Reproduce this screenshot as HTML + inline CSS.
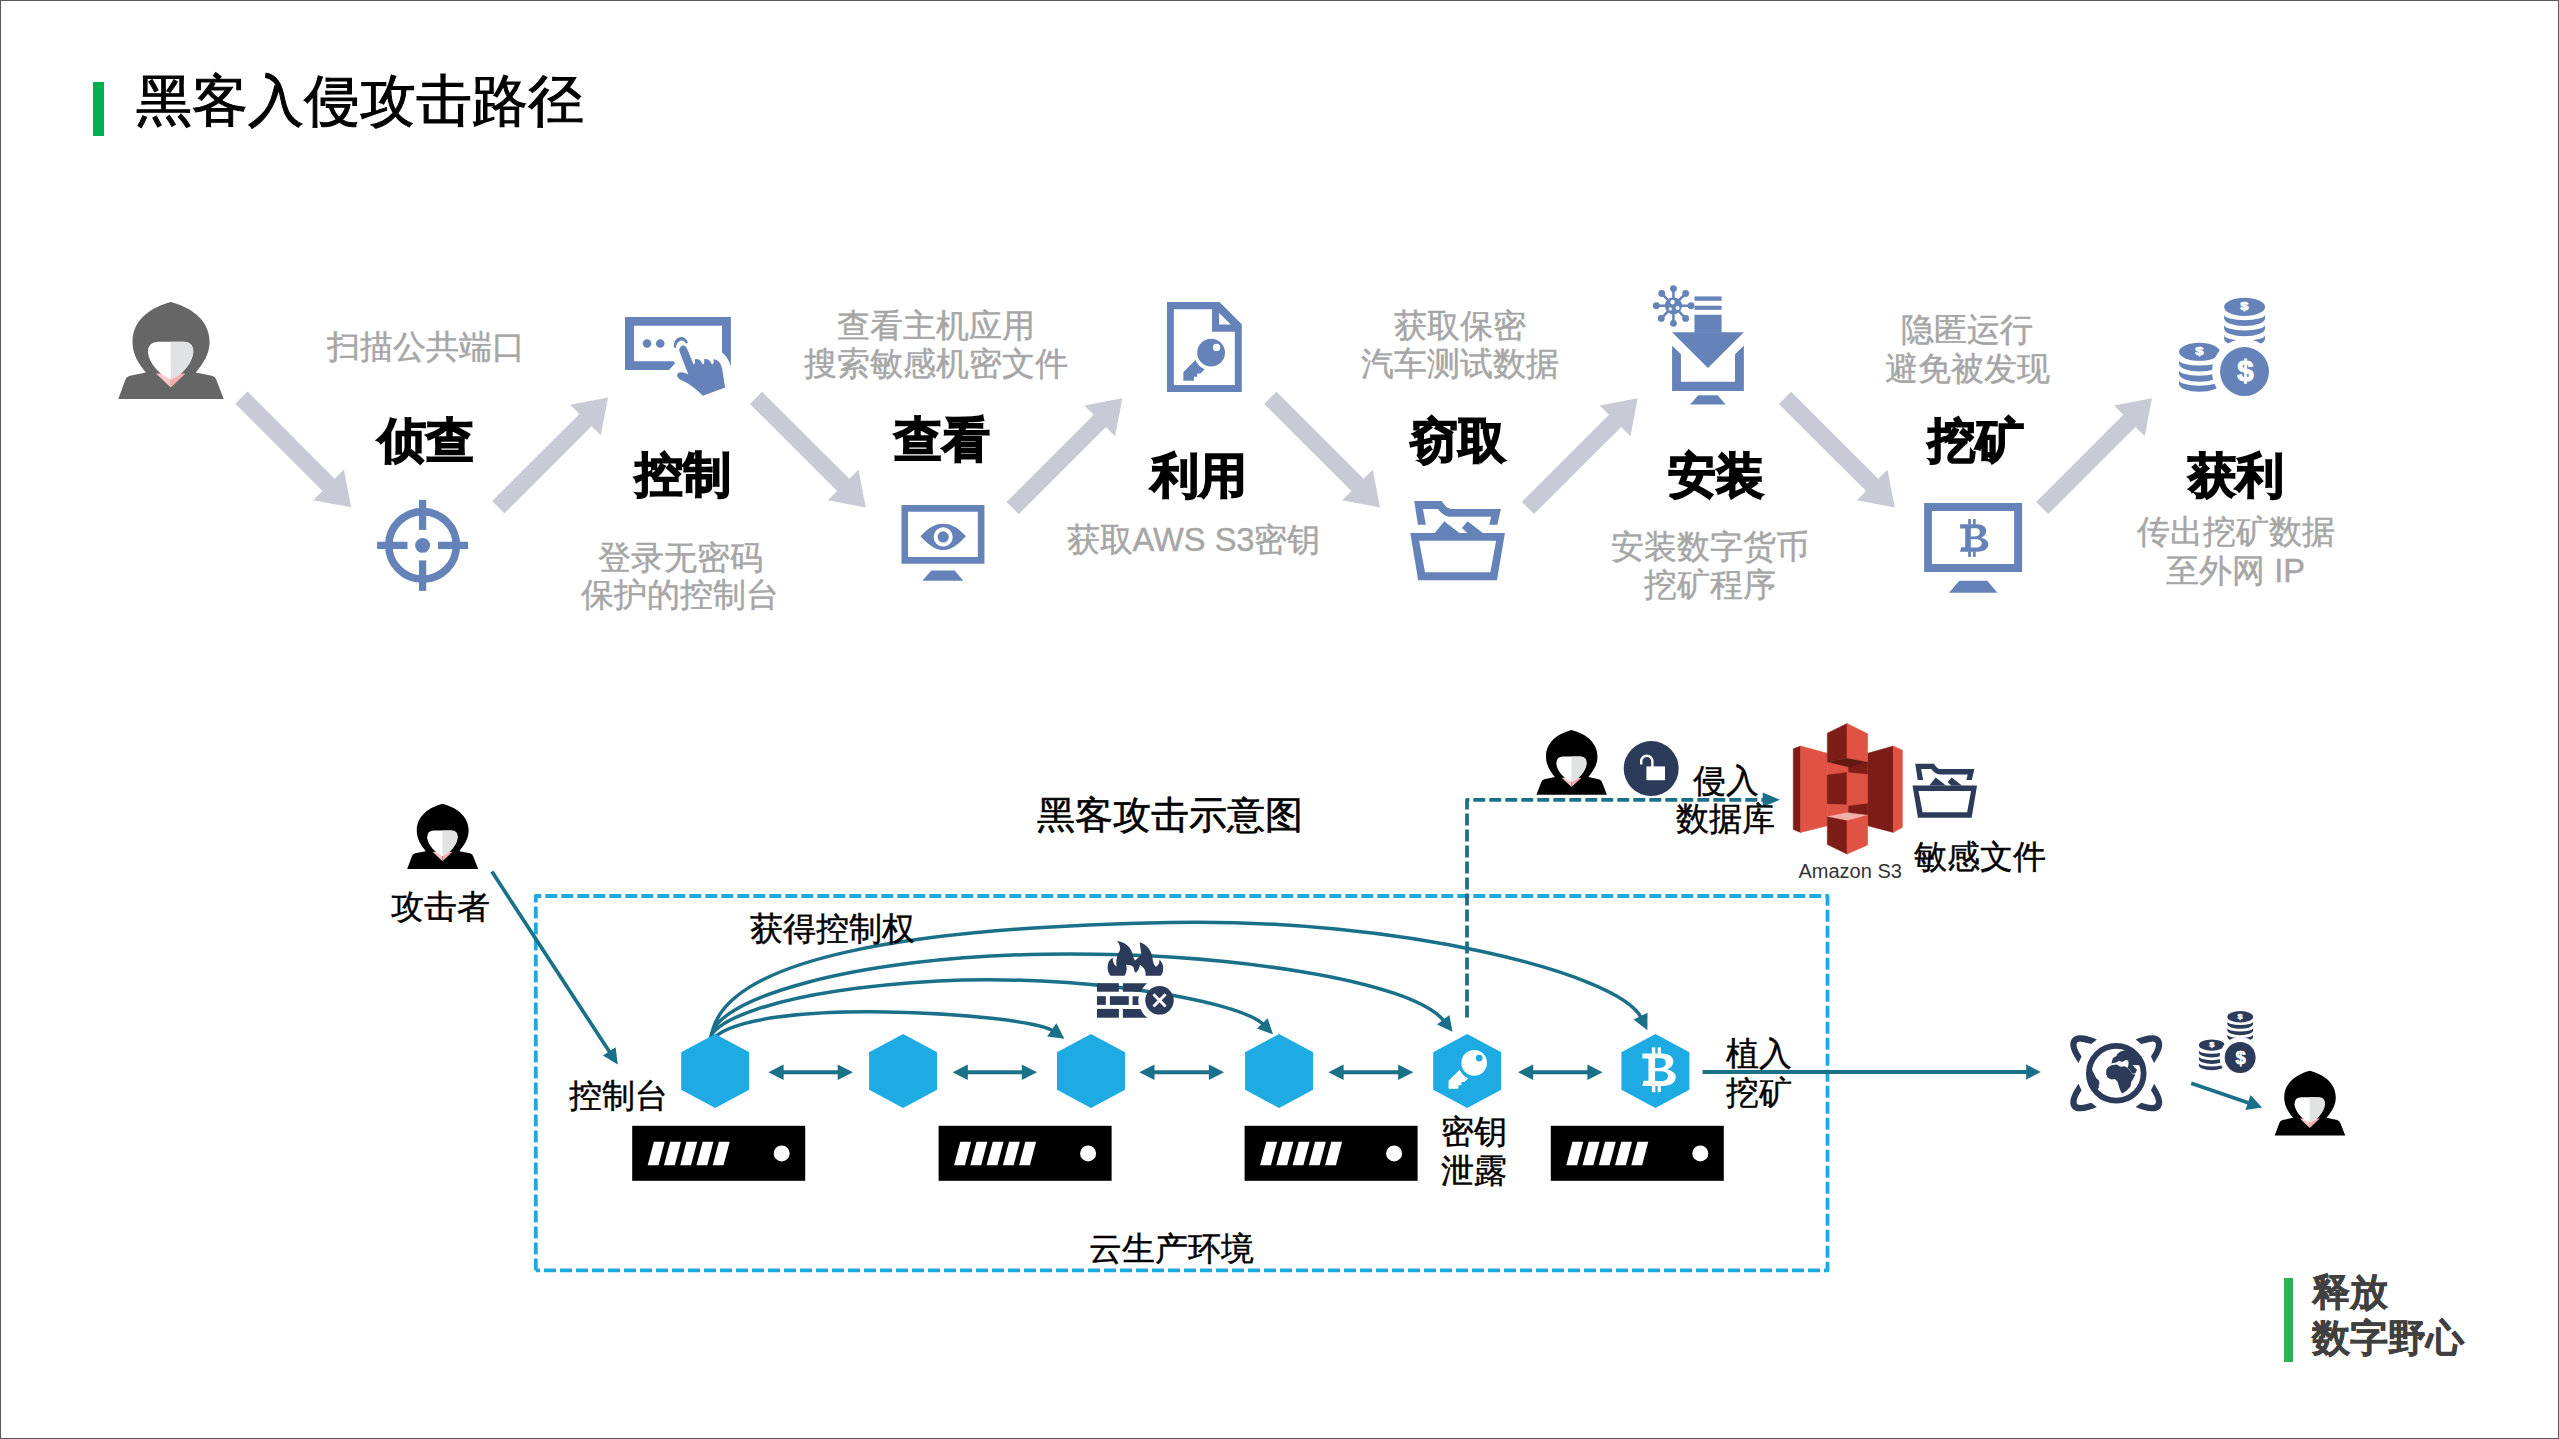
<!DOCTYPE html>
<html><head><meta charset="utf-8">
<style>
html,body{margin:0;padding:0;background:#fff;}
body{width:2559px;height:1439px;position:relative;overflow:hidden;font-family:"Liberation Sans",sans-serif;}
#frame{position:absolute;left:0;top:0;width:2559px;height:1439px;box-sizing:border-box;border:1px solid #595959;}
svg{position:absolute;left:0;top:0;}
.t{position:absolute;white-space:nowrap;}
.g,.k{-webkit-text-stroke:0.45px currentColor;}
.g{color:#a6a6a6;font-size:32.6px;text-align:center;}
.h{color:#000;font-size:48.3px;line-height:48px;font-weight:bold;-webkit-text-stroke:1.6px #000;text-align:center;width:200px;}
.k{color:#000;font-size:32.6px;}
</style></head><body>
<div id="frame"></div>
<!--SVG--><svg width="2559" height="1439" viewBox="0 0 2559 1439">
<defs>
<g id="hacker">
<path fill="currentColor" d="M52.8,0 C34,5 14.5,17 14.5,40 C14.5,53 21,62 27.8,70.5 L12,73.8 Q8,75 7,78.8 L0.3,97 L105.75,97 L98.7,78.8 Q97.5,75 93.7,73.8 L77.8,70.5 C84.5,62 91.6,53 91.6,40 C91.6,17 71.6,5 52.8,0 Z"/>
<path fill="#f8c9c9" d="M38,71.5 L52.8,71.5 L52.8,85.5 Z"/>
<path fill="#f2adad" d="M52.8,71.5 L67.6,71.5 L52.8,85.5 Z"/>
<path fill="#ffffff" d="M40,39.7 L66,39.7 Q75.5,40 75.3,50 C74,62 64,73 52.8,77.6 C42,73 31,62 29.9,50 Q30,40 40,39.7 Z"/>
<path fill="#e1e2e4" d="M52.6,39.7 L66,39.7 Q75.5,40 75.3,50 C74,62 64,73 52.8,77.6 Z"/>
</g>
<g id="coins">
<ellipse cx="975.8" cy="221" rx="267.5" ry="119" fill="currentColor"/>
<path fill="currentColor" d="M708.3,320.5 L708.3,368.5 A267.5,104 0 0 0 1243.3,368.5 L1243.3,320.5 A267.5,74 0 0 1 708.3,320.5 Z"/>
<path fill="currentColor" d="M708.3,454.6 L708.3,502.6 A267.5,104 0 0 0 1243.3,502.6 L1243.3,454.6 A267.5,74 0 0 1 708.3,454.6 Z"/>
<path fill="currentColor" d="M708.3,588.3 L708.3,636.3 A267.5,104 0 0 0 1243.3,636.3 L1243.3,588.3 A267.5,74 0 0 1 708.3,588.3 Z"/>
<ellipse cx="385.2" cy="809" rx="267.5" ry="118" fill="currentColor"/>
<path fill="currentColor" d="M117.7,914.3 L117.7,962.3 A267.5,104 0 0 0 652.7,962.3 L652.7,914.3 A267.5,74 0 0 1 117.7,914.3 Z"/>
<path fill="currentColor" d="M117.7,1047.6 L117.7,1095.6 A267.5,104 0 0 0 652.7,1095.6 L652.7,1047.6 A267.5,74 0 0 1 117.7,1047.6 Z"/>
<path fill="currentColor" d="M117.7,1178.4 L117.7,1226.4 A267.5,104 0 0 0 652.7,1226.4 L652.7,1178.4 A267.5,74 0 0 1 117.7,1178.4 Z"/>
<circle cx="974.5" cy="1066.7" r="425" fill="#fff"/>
<circle cx="974.5" cy="1066.7" r="320.5" fill="currentColor"/>
<text x="0" y="0" transform="translate(971.5,267) scale(1.3,1)" font-family="Liberation Sans" font-weight="bold" font-size="150" fill="#fff" stroke="#fff" stroke-width="8" text-anchor="middle">$</text>
<text x="0" y="0" transform="translate(385.5,852) scale(1.3,1)" font-family="Liberation Sans" font-weight="bold" font-size="150" fill="#fff" stroke="#fff" stroke-width="8" text-anchor="middle">$</text>
<text x="987" y="1195" font-family="Liberation Sans" font-weight="bold" font-size="384" fill="#fff" stroke="#fff" stroke-width="14" text-anchor="middle">$</text>
</g>
<g id="btc">
<path fill="currentColor" fill-rule="evenodd" d="M618,400 L850,400 C950,405 975,450 975,495 C975,540 950,570 905,585 C975,600 1005,640 1005,665 C1005,730 960,778 850,778 L618,778 L632,715 L688,715 L688,460 L618,460 Z M765,455 L840,455 C880,458 888,485 888,512 C888,545 865,568 820,568 L765,568 Z M765,605 L830,605 C890,605 915,635 915,660 C915,695 890,718 830,718 L765,718 Z"/>
<rect x="728" y="330" width="40" height="75" fill="currentColor"/><rect x="795" y="330" width="37" height="75" fill="currentColor"/>
<rect x="728" y="773" width="40" height="75" fill="currentColor"/><rect x="795" y="773" width="37" height="75" fill="currentColor"/>
</g>
<g id="key">
<circle cx="700" cy="790" r="190" fill="currentColor"/>
<path fill="currentColor" d="M485,890 C510,950 560,995 612,1018 L555,1075 L510,1075 L510,1120 L465,1120 L465,1175 L320,1175 L320,1055 Z"/>
</g>
<g id="server">
<rect x="0" y="0" width="173" height="55" fill="#000"/>
<g fill="#fff">
<path d="M15.5,39.5 L26.3,39.5 L32.5,16 L21.7,16 Z"/>
<path d="M31.75,39.5 L42.55,39.5 L48.75,16 L37.95,16 Z"/>
<path d="M48,39.5 L58.8,39.5 L65,16 L54.2,16 Z"/>
<path d="M64.25,39.5 L75.05,39.5 L81.25,16 L70.45,16 Z"/>
<path d="M80.5,39.5 L91.3,39.5 L97.5,16 L86.7,16 Z"/>
<circle cx="149.5" cy="27.6" r="8"/>
</g>
</g>
<path id="arrp" fill="#c8cbd5" d="M0,-8.65 L123.3,-8.65 L123.3,-21.7 L155.2,0 L123.3,21.7 L123.3,8.65 L0,8.65 Z"/>
<marker id="mh" viewBox="0 0 18 16" refX="17" refY="8" markerWidth="18" markerHeight="16" markerUnits="userSpaceOnUse" orient="auto-start-reverse"><path d="M0,0 L18,8 L0,16 Z" fill="#1a6f89"/></marker>
<marker id="md" viewBox="0 0 16 17" refX="15" refY="8.5" markerWidth="16" markerHeight="17" markerUnits="userSpaceOnUse" orient="auto-start-reverse"><path d="M0,0 L16,8.5 L0,17 Z" fill="#1a6f89"/></marker>
</defs>
<g id="toprow">
<use href="#arrp" transform="translate(241.4,397.6) rotate(45)"/>
<use href="#arrp" transform="translate(498.3,507.2) rotate(-45)"/>
<use href="#arrp" transform="translate(756,397.8) rotate(45)"/>
<use href="#arrp" transform="translate(1012.6,508.1) rotate(-45)"/>
<use href="#arrp" transform="translate(1270.3,397.8) rotate(45)"/>
<use href="#arrp" transform="translate(1527.9,508) rotate(-45)"/>
<use href="#arrp" transform="translate(1785,397.8) rotate(45)"/>
<use href="#arrp" transform="translate(2042.2,508) rotate(-45)"/>
<use href="#hacker" transform="translate(118,302)" style="color:#666666"/>
<g fill="#6583b8">
<g transform="translate(422.6,545.4)">
<circle cx="0" cy="0" r="33.8" fill="none" stroke="#6583b8" stroke-width="7.6"/>
<rect x="-3.65" y="-45.5" width="7.3" height="30"/><rect x="-3.65" y="15" width="7.3" height="30.5"/>
<rect x="-45.5" y="-3.65" width="30.4" height="7.3"/><rect x="15.4" y="-3.65" width="30.1" height="7.3"/>
<circle cx="0" cy="0" r="7.45"/>
</g>
<g transform="translate(615,310) scale(0.066033)">
<path d="M152,105 L1755,105 L1755,850 Q1700,700 1620,645 L1620,240 L287,240 L287,775 L890,775 L908,812 L818,908 L152,908 Z"/>
<circle cx="485" cy="508" r="65"/><circle cx="685" cy="508" r="65"/>
<path d="M900,575 C880,520 900,440 970,415 C1040,395 1090,440 1105,495 L1075,510 C1055,470 1020,455 985,468 C940,485 925,530 925,570 Z"/>
<path d="M975,625 C965,570 1010,530 1050,540 C1075,548 1085,570 1095,595 L1190,825 L1210,805 L1212,745 C1260,740 1290,750 1310,790 L1330,825 L1350,805 L1352,745 C1400,740 1430,750 1450,790 L1470,825 L1495,800 L1490,745 C1560,750 1600,800 1620,880 C1640,960 1645,1080 1670,1175 L1330,1300 C1250,1210 1150,1130 1000,1060 C940,1030 925,975 960,950 C990,930 1050,945 1110,975 Z"/>
</g>
<g transform="translate(895,495) scale(0.066)">
<path fill-rule="evenodd" d="M98,152 L1355,152 L1355,1040 L98,1040 Z M198,255 L198,938 L1255,938 L1255,255 Z"/>
<path d="M550,1145 L905,1145 L1035,1300 L415,1300 Z"/>
<path d="M385,625 C520,480 620,435 730,435 C840,435 940,480 1075,625 C940,770 840,835 730,835 C620,835 520,770 385,625 Z"/>
<circle cx="730" cy="635" r="145" fill="#fff"/><circle cx="730" cy="635" r="85"/>
</g>
<g transform="translate(1160,295) scale(0.073)">
<path fill-rule="evenodd" d="M95,97 L815,97 L1120,400 L1120,1330 L95,1330 Z M190,195 L190,1232 L1025,1232 L1025,505 L713,505 L713,195 Z M810,245 L810,405 L970,405 Z"/>
<use href="#key" style="color:#6583b8"/>
<circle cx="775" cy="718" r="50" fill="#fff"/>
</g>
<g transform="translate(1400,490) scale(0.0695)">
<path d="M205,160 L600,160 C640,215 670,270 740,272 L1452,272 L1400,500 L1285,500 L1312,385 L740,385 C650,385 590,330 545,272 L330,272 L372,500 L258,500 Z"/>
<path fill-rule="evenodd" d="M148,620 L1510,620 L1395,1298 L262,1298 Z M275,732 L360,1185 L1300,1185 L1383,732 Z"/>
<path d="M500,620 L637,448 L855,620 Z"/>
<path d="M890,548 L972,448 L1192,620 L965,620 L960,612 Z"/>
</g>
<g transform="translate(1645,280) scale(0.0903)">
<rect x="548" y="182" width="300" height="48"/><rect x="548" y="285" width="300" height="45"/>
<rect x="548" y="385" width="300" height="200"/>
<path d="M300,580 L1095,580 L697,975 Z"/>
<path d="M300,725 L398,822 L398,1128 L997,1128 L997,822 L1095,725 L1095,1228 L300,1228 Z"/>
<path d="M588,1275 L805,1275 L893,1378 L500,1378 Z"/>
<g stroke="#6583b8" stroke-width="28" stroke-linecap="round">
<line x1="315" y1="285" x2="315" y2="95"/><line x1="315" y1="285" x2="450" y2="150"/><line x1="315" y1="285" x2="510" y2="285"/><line x1="315" y1="285" x2="450" y2="425"/>
<line x1="315" y1="285" x2="315" y2="480"/><line x1="315" y1="285" x2="180" y2="425"/><line x1="315" y1="285" x2="125" y2="285"/><line x1="315" y1="285" x2="185" y2="150"/>
</g>
<circle cx="315" cy="285" r="95"/>
<circle cx="315" cy="95" r="38"/><circle cx="450" cy="150" r="38"/><circle cx="510" cy="285" r="38"/><circle cx="450" cy="425" r="38"/>
<circle cx="315" cy="480" r="38"/><circle cx="180" cy="425" r="38"/><circle cx="125" cy="285" r="38"/><circle cx="185" cy="150" r="38"/>
<circle cx="305" cy="245" r="25" fill="#fff"/><circle cx="280" cy="320" r="18" fill="#fff"/><circle cx="360" cy="310" r="22" fill="#fff"/>
</g>
<g transform="translate(1915,495) scale(0.07297)">
<path fill-rule="evenodd" d="M125,110 L1468,110 L1468,1055 L125,1055 Z M232,218 L232,945 L1358,945 L1358,218 Z"/>
<path d="M610,1175 L990,1175 L1130,1340 L465,1340 Z"/>
<use href="#btc" style="color:#6583b8"/>
</g>
</g>
<use href="#coins" transform="translate(2170,290) scale(0.07645)" style="color:#6583b8"/>
</g>
<g id="bottom">
<path d="M535.8,902.5 L535.8,896 L1827.5,896 L1827.5,1270.3 L535.8,1270.3" fill="none" stroke="#1ea9e1" stroke-width="3.8" stroke-dasharray="12 4" stroke-linejoin="round"/>
<path d="M535.8,1270.3 L535.8,902.5" fill="none" stroke="#1ea9e1" stroke-width="3.8" stroke-dasharray="12 4" stroke-dashoffset="0.3"/>
<g fill="none" stroke="#1a6f89" stroke-width="3.5">
<path d="M711.0,1041.0 C715.3,955.3 923.5,927.3 1169.8,922.4 C1396.4,917.9 1619.3,972.7 1641.4,1018.0"/>
<path fill="#1a6f89" stroke="none" d="M1647.4,1030.3 L1633.5,1019.6 L1647.5,1012.8 Z"/>
<path d="M711.0,1041.0 C705.5,1000.0 854.2,956.8 1044.3,954.2 C1226.0,951.7 1412.3,980.3 1444.4,1021.4"/>
<path fill="#1a6f89" stroke="none" d="M1452.5,1031.7 L1437.0,1024.6 L1449.4,1015.0 Z"/>
<path d="M711.0,1041.0 C704.8,1026.4 762.5,991.2 938.3,981.1 C1071.1,973.4 1238.7,999.2 1263.7,1024.8"/>
<path fill="#1a6f89" stroke="none" d="M1273.0,1034.3 L1257.0,1028.5 L1267.6,1018.2 Z"/>
<path d="M711.0,1041.0 C745.6,994.5 1028.0,1013.3 1053.4,1031.1"/>
<path fill="#1a6f89" stroke="none" d="M1064.4,1038.8 L1047.1,1036.6 L1056.4,1023.3 Z"/>
</g>
<g fill="#1a6f89">
<path d="M768.4,1072.2 L783.6,1080.0 L783.6,1064.4 Z"/>
<line x1="782.6" y1="1072.2" x2="838.7" y2="1072.2" stroke="#1a6f89" stroke-width="3.90"/>
<path d="M852.9,1072.2 L837.7,1080.0 L837.7,1064.4 Z"/>
<path d="M952.6,1072.2 L967.8,1080.0 L967.8,1064.4 Z"/>
<line x1="966.8" y1="1072.2" x2="1022.8" y2="1072.2" stroke="#1a6f89" stroke-width="3.90"/>
<path d="M1037.0,1072.2 L1021.8,1080.0 L1021.8,1064.4 Z"/>
<path d="M1139.3,1072.2 L1154.5,1080.0 L1154.5,1064.4 Z"/>
<line x1="1153.5" y1="1072.2" x2="1209.9" y2="1072.2" stroke="#1a6f89" stroke-width="3.90"/>
<path d="M1224.1,1072.2 L1208.9,1080.0 L1208.9,1064.4 Z"/>
<path d="M1328.4,1072.2 L1343.6,1080.0 L1343.6,1064.4 Z"/>
<line x1="1342.6" y1="1072.2" x2="1399.1" y2="1072.2" stroke="#1a6f89" stroke-width="3.90"/>
<path d="M1413.3,1072.2 L1398.1,1080.0 L1398.1,1064.4 Z"/>
<path d="M1518.0,1072.2 L1533.2,1080.0 L1533.2,1064.4 Z"/>
<line x1="1532.2" y1="1072.2" x2="1588.4" y2="1072.2" stroke="#1a6f89" stroke-width="3.90"/>
<path d="M1602.6,1072.2 L1587.4,1080.0 L1587.4,1064.4 Z"/>
<line x1="491.9" y1="871.6" x2="609.8" y2="1052.3" stroke="#1a6f89" stroke-width="3.70"/>
<path d="M617.8,1064.6 L602.9,1055.6 L615.6,1047.3 Z"/>
<line x1="1702.6" y1="1072.0" x2="2027.1" y2="1072.0" stroke="#1a6f89" stroke-width="3.80"/>
<path d="M2040.8,1072.0 L2026.1,1079.7 L2026.1,1064.3 Z"/>
<line x1="2191.2" y1="1083.2" x2="2248.9" y2="1102.9" stroke="#1a6f89" stroke-width="3.70"/>
<path d="M2262.1,1107.4 L2245.4,1110.0 L2250.5,1095.1 Z"/>
</g>
<g stroke="#1a6f89" fill="none">
<path d="M1467,1017.5 L1467,799.8 L1764,799.8" stroke-width="3.75" stroke-dasharray="12 4" stroke-linejoin="round"/>
</g>
<path d="M1762.7,792.6 L1780,799.8 L1762.7,807.0 Z" fill="#1a6f89"/>
<g fill="#1eaae2">
<path d="M715.2,1034 L749.2,1052.3 L749.2,1089.7 L715.2,1108 L681.2,1089.7 L681.2,1052.3 Z"/>
<path d="M903.1,1034 L937.1,1052.3 L937.1,1089.7 L903.1,1108 L869.1,1089.7 L869.1,1052.3 Z"/>
<path d="M1091,1034 L1125,1052.3 L1125,1089.7 L1091,1108 L1057,1089.7 L1057,1052.3 Z"/>
<path d="M1279.1,1034 L1313.1,1052.3 L1313.1,1089.7 L1279.1,1108 L1245.1,1089.7 L1245.1,1052.3 Z"/>
<path d="M1467.2,1034 L1501.2,1052.3 L1501.2,1089.7 L1467.2,1108 L1433.2,1089.7 L1433.2,1052.3 Z"/>
<path d="M1655.4,1034 L1689.4,1052.3 L1689.4,1089.7 L1655.4,1108 L1621.4,1089.7 L1621.4,1052.3 Z"/>
</g>
<g transform="translate(1427,1009.65) scale(0.0674)" style="color:#fff"><use href="#key"/><circle cx="775" cy="718" r="50" fill="#1eaae2"/></g>
<use href="#btc" transform="translate(1588.9,1018.8) scale(0.0865)" style="color:#fff"/>
<use href="#server" transform="translate(632.2,1125.8)"/>
<use href="#server" transform="translate(938.6,1125.8)"/>
<use href="#server" transform="translate(1244.6,1125.8)"/>
<use href="#server" transform="translate(1550.8,1125.8)"/>
<use href="#hacker" transform="translate(407,803.7) scale(0.673)" style="color:#000"/>
<use href="#hacker" transform="translate(1536.3,730) scale(0.668)" style="color:#000"/>
<use href="#hacker" transform="translate(2274.5,1070.7) scale(0.669)" style="color:#000"/>
<g fill="#2c3b5a">
<g transform="translate(1085,930) scale(0.0695)">
<rect x="172" y="765" width="316" height="123"/>
<path d="M545,765 L895,765 C850,805 820,845 800,888 L545,888 Z"/>
<rect x="172" y="952" width="128" height="126"/><rect x="358" y="952" width="272" height="126"/>
<path d="M685,952 L775,952 C765,995 765,1040 775,1078 L685,1078 Z"/>
<rect x="172" y="1135" width="316" height="127"/>
<path d="M545,1135 L800,1135 C830,1200 860,1235 900,1262 L545,1262 Z"/>
<circle cx="1072" cy="1012" r="205"/>
<path d="M985,925 L1160,1100 M1160,925 L985,1100" stroke="#fff" stroke-width="42"/>
<path d="M370,660 C330,620 310,540 340,460 C360,420 385,405 400,400 C395,450 410,490 455,530 C440,430 470,340 500,300 C520,260 490,190 460,158 C560,170 650,230 680,330 C690,370 700,410 720,440 C760,400 800,380 810,350 C800,290 795,230 785,178 C900,210 960,310 970,400 C975,450 985,500 1020,530 C1060,510 1075,470 1070,425 C1120,470 1135,540 1120,600 C1110,640 1090,660 1070,660 L870,660 C880,600 860,540 790,505 C780,560 760,600 730,615 C710,600 700,560 700,540 C690,520 650,500 590,500 C610,550 600,610 570,660 Z"/>
</g>
<circle cx="1651.2" cy="768.6" r="27.5"/>
<use href="#coins" transform="translate(2193.2,1006.1) scale(0.0482)" style="color:#2c3b5a"/>
<g transform="translate(1905.5,756.2) scale(0.0474)">
<path d="M205,160 L600,160 C640,215 670,270 740,272 L1452,272 L1400,500 L1285,500 L1312,385 L740,385 C650,385 590,330 545,272 L330,272 L372,500 L258,500 Z"/>
<path fill-rule="evenodd" d="M148,620 L1510,620 L1395,1298 L262,1298 Z M275,732 L360,1185 L1300,1185 L1383,732 Z"/>
<path d="M500,620 L637,448 L855,620 Z"/>
<path d="M890,548 L972,448 L1192,620 L965,620 L960,612 Z"/>
</g>
<g transform="translate(2065,1028) scale(0.0625)">
<circle cx="820" cy="725" r="438" fill="none" stroke="#2c3b5a" stroke-width="93"/>
<path id="brk" d="M510,185 C400,140 300,105 200,120 C110,140 80,210 85,280 C95,380 160,470 215,560 L265,455 C220,380 185,320 185,270 C185,230 210,215 250,218 C300,222 360,240 420,255 Z"/>
<use href="#brk" transform="translate(1640,0) scale(-1,1)"/>
<use href="#brk" transform="translate(0,1450) scale(1,-1)"/>
<use href="#brk" transform="translate(1640,1450) scale(-1,-1)"/>
<path d="M431,663 467,737 498,798 541,841 553,884 538,920 547,945 525,981 473,945 424,822 418,700 Z"/>
<path d="M742,566 752,529 767,480 822,449 840,413 889,376 978,348 1073,352 1164,425 1220,517 1223,596 1079,593 1122,639 1152,663 1134,712 1109,731 1073,725 1036,670 1002,630 1012,602 1018,547 969,514 938,532 908,544 871,523 828,547 779,559 Z"/>
<path d="M663,663 687,627 742,596 828,584 889,618 950,611 996,630 1042,682 1082,740 1128,743 1091,810 1057,871 1051,933 981,1006 914,1049 889,1006 865,945 840,859 798,816 742,822 681,792 657,737 Z"/>
<ellipse cx="987" cy="526" rx="30" ry="12" fill="#fff"/>
</g>
</g>
<g fill="#fff">
<rect x="1646.4" y="766.4" width="18.6" height="13.8"/>
</g>
<path d="M1641.2,764.4 L1641.2,761.3 A5.6,5.6 0 0 1 1652.4,761.3 L1652.4,767" fill="none" stroke="#fff" stroke-width="2.4"/>
<g transform="translate(1785,715) scale(0.10078)">
<path fill="#7e1d17" stroke="#7e1d17" stroke-width="5" stroke-linejoin="round" d="M82,335 L155,308 L155,1165 L82,1135 Z"/>
<path fill="#e05243" stroke="#e05243" stroke-width="5" stroke-linejoin="round" d="M155,308 L420,380 L420,1100 L155,1165 Z"/>
<path fill="#7e1d17" stroke="#7e1d17" stroke-width="5" stroke-linejoin="round" d="M820,380 L1075,308 L1075,1165 L820,1100 Z"/>
<path fill="#e05243" stroke="#e05243" stroke-width="5" stroke-linejoin="round" d="M1075,308 L1165,350 L1165,1115 L1075,1165 Z"/>
<path fill="#e05243" stroke="#e05243" stroke-width="5" stroke-linejoin="round" d="M420,465 L630,510 L630,1010 L420,1010 Z"/>
<path fill="#7e1d17" stroke="#7e1d17" stroke-width="5" stroke-linejoin="round" d="M630,510 L820,470 L820,1010 L630,1010 Z"/>
<path fill="#7e1d17" stroke="#7e1d17" stroke-width="5" stroke-linejoin="round" d="M420,180 L615,85 L615,430 L420,465 Z"/>
<path fill="#e05243" stroke="#e05243" stroke-width="5" stroke-linejoin="round" d="M615,85 L820,185 L820,470 L615,430 Z"/>
<path fill="#641812" stroke="#641812" stroke-width="5" stroke-linejoin="round" d="M420,465 L615,430 L820,470 L635,515 Z"/>
<path fill="#7e1d17" stroke="#7e1d17" stroke-width="5" stroke-linejoin="round" d="M420,595 L615,570 L615,885 L420,880 Z"/>
<path fill="#e05243" stroke="#e05243" stroke-width="5" stroke-linejoin="round" d="M615,570 L820,590 L820,875 L615,900 Z"/>
<path fill="#f2b0a9" stroke="#f2b0a9" stroke-width="5" stroke-linejoin="round" d="M420,1010 L615,970 L820,995 L615,1050 Z"/>
<path fill="#7e1d17" stroke="#7e1d17" stroke-width="5" stroke-linejoin="round" d="M420,1010 L615,1050 L615,1380 L420,1285 Z"/>
<path fill="#e05243" stroke="#e05243" stroke-width="5" stroke-linejoin="round" d="M615,1050 L820,995 L820,1290 L615,1380 Z"/>
</g>
</g>
</svg>
<div class="t" style="left:93px;top:82px;width:11px;height:54px;background:#00b050"></div>
<div class="t" style="left:136px;top:73.3px;font-size:55.9px;line-height:55.7px;color:#000;-webkit-text-stroke:1px #000">黑客入侵攻击路径</div>

<div class="t g" style="left:325.90px;top:331.10px;width:200px;line-height:32px">扫描公共端口</div>
<div class="t g" style="left:530.20px;top:538.60px;width:300px;line-height:37.8px">登录无密码<br>保护的控制台</div>
<div class="t g" style="left:786.00px;top:306.80px;width:300px;line-height:37.7px">查看主机应用<br>搜索敏感机密文件</div>
<div class="t g" style="left:1043.55px;top:523.80px;width:300px;line-height:32px">获取AWS S3密钥</div>
<div class="t g" style="left:1309.90px;top:306.50px;width:300px;line-height:38.5px">获取保密<br>汽车测试数据</div>
<div class="t g" style="left:1559.70px;top:528.15px;width:300px;line-height:37.8px">安装数字货币<br>挖矿程序</div>
<div class="t g" style="left:1817.20px;top:310.15px;width:300px;line-height:39px">隐匿运行<br>避免被发现</div>
<div class="t g" style="left:2085.70px;top:513.30px;width:300px;line-height:38.65px">传出挖矿数据<br>至外网 IP</div>

<div class="t h" style="left:325.55px;top:415.70px">侦查</div>
<div class="t h" style="left:582.65px;top:450.20px">控制</div>
<div class="t h" style="left:841.80px;top:415.40px">查看</div>
<div class="t h" style="left:1098.70px;top:450.95px">利用</div>
<div class="t h" style="left:1357.55px;top:416.05px">窃取</div>
<div class="t h" style="left:1615.95px;top:450.55px">安装</div>
<div class="t h" style="left:1876.05px;top:416.05px">挖矿</div>
<div class="t h" style="left:2136.00px;top:450.55px">获利</div>

<div class="t" style="left:1019.75px;top:797.1px;width:300px;text-align:center;font-size:38.0px;line-height:37.2px;color:#000;-webkit-text-stroke:0.6px #000">黑客攻击示意图</div>
<div class="t k" style="left:390.70px;top:891.20px;width:100px;text-align:center;line-height:32px">攻击者</div>
<div class="t k" style="left:750.0px;top:913.00px;line-height:32px">获得控制权</div>
<div class="t k" style="left:568.60px;top:1080.00px;width:100px;text-align:center;line-height:32px">控制台</div>
<div class="t k" style="left:1423.50px;top:1111.65px;width:100px;text-align:center;line-height:39px">密钥<br>泄露</div>
<div class="t k" style="left:1708.65px;top:1033.90px;width:100px;text-align:center;line-height:39.4px">植入<br>挖矿</div>
<div class="t k" style="left:1675.70px;top:762.45px;width:100px;text-align:center;line-height:38px">侵入<br>数据库</div>
<div class="t k" style="left:1914px;top:841.45px;line-height:32px">敏感文件</div>
<div class="t k" style="left:1071.90px;top:1232.50px;width:200px;text-align:center;line-height:32px">云生产环境</div>
<div class="t" style="left:1798.5px;top:860.9px;font-size:20px;line-height:20px;color:#333">Amazon S3</div>

<div class="t" style="left:2284px;top:1278px;width:9px;height:84px;background:#2ab45a"></div>
<div class="t" style="left:2312.4px;top:1268.9px;font-size:38.3px;line-height:45.65px;font-weight:bold;color:#404040;-webkit-text-stroke:0.5px #404040">释放<br>数字野心</div>
</body></html>
